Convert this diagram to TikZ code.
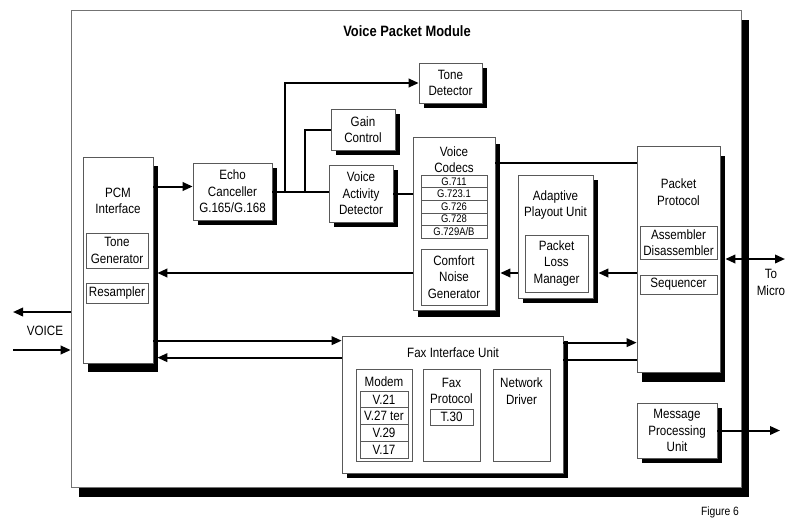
\documentclass[tikz,border=0pt]{standalone}
\usepackage{fontspec}
\setmainfont[FakeStretch=0.86]{Liberation Sans}
\usetikzlibrary{arrows.meta,shadows}

\begin{document}
\begin{tikzpicture}[x=1pt, y=-1pt,
    box/.style={draw=black!65, line width=0.7pt, fill=white, inner sep=0pt, align=center,
      font=\fontsize{13.5}{16.5}\selectfont,
      drop shadow={shadow xshift=5pt, shadow yshift=#1, fill=black, opacity=1}},
    box/.default=-5pt,
    inbox/.style={draw=black!65, line width=0.6pt, fill=white, inner sep=0pt, align=center,
      font=\fontsize{13.5}{16.5}\selectfont},
    lbl/.style={inner sep=0pt, align=center, font=\fontsize{13.5}{16.5}\selectfont},
    wire/.style={line width=2pt},
    arr/.style={wire, -{Triangle[length=10pt, width=8.5pt]}},
    both/.style={wire, {Triangle[length=10pt, width=8.5pt]}-{Triangle[length=10pt, width=8.5pt]}}]
  \useasboundingbox (0,0) rectangle (787,520);

  % module frame
  \node[draw=black!55, line width=0.7pt, fill=white, minimum width=670pt, minimum height=477pt,
        drop shadow={shadow xshift=8pt, shadow yshift=-10pt, fill=black, opacity=1}] (vpm) at (406,248.5) {};
  \node[lbl, font=\bfseries\fontsize{15}{18}\selectfont] (vpmtitle) at (407,31) {Voice Packet Module};

  % PCM side
  \node[box=-9pt, minimum width=70pt, minimum height=206pt] (pcm) at (118,260) {};
  \node[lbl] (pcmlbl) at (118,201) {PCM\\Interface};
  \node[inbox, minimum width=62pt, minimum height=35pt] (tgen) at (117,250.5) {Tone\\Generator};
  \node[inbox, minimum width=62pt, minimum height=20pt] (resamp) at (117,293) {Resampler};

  % voice path
  \node[box, minimum width=79pt, minimum height=57pt] (echo) at (232.5,191.5) {Echo\\Canceller\\G.165/G.168};
  \node[box, minimum width=63pt, minimum height=40pt] (tdet) at (450.5,83) {Tone\\Detector};
  \node[box, minimum width=64pt, minimum height=41pt] (gain) at (363,129.5) {Gain\\Control};
  \node[box, minimum width=64pt, minimum height=57pt] (vad) at (361,193.5) {Voice\\Activity\\Detector};

  \node[box=-7pt, minimum width=82pt, minimum height=173pt] (codec) at (454,223.5) {};
  \node[lbl] (codeclbl) at (454,159.5) {Voice\\Codecs};
  \foreach \c [count=\i] in {G.711,G.723.1,G.726,G.728,G.729A/B}
    \node[inbox, font=\fontsize{11}{12}\selectfont, minimum width=66pt, minimum height=12.6pt]
      (cd\i) at (454,{175+12.6*(\i-0.5)}) {\c};
  \node[inbox, minimum width=66pt, minimum height=56pt] (cng) at (454,277) {Comfort\\Noise\\Generator};

  \node[box, minimum width=75pt, minimum height=123pt] (apu) at (555.5,236.5) {};
  \node[lbl] (apulbl) at (555.5,205) {Adaptive\\Playout Unit};
  \node[inbox, minimum width=63pt, minimum height=57pt] (plm) at (556.5,263.5) {Packet\\Loss\\Manager};

  \node[box=-10pt, minimum width=83pt, minimum height=226pt] (pp) at (678.5,259) {};
  \node[lbl] (pplbl) at (678.5,192) {Packet\\Protocol};
  \node[inbox, minimum width=77pt, minimum height=33pt] (asm) at (678.5,242.5) {Assembler\\Disassembler};
  \node[inbox, minimum width=77pt, minimum height=19pt] (seq) at (678.5,284.5) {Sequencer};

  % fax path
  \node[box, minimum width=221pt, minimum height=137pt] (fax) at (452.5,404.5) {};
  \node[lbl] (faxlbl) at (453,353) {Fax Interface Unit};
  \node[inbox, minimum width=56pt, minimum height=92pt] (modem) at (384,415) {};
  \node[lbl] (modemlbl) at (384,382) {Modem};
  \foreach \m [count=\i] in {V.21,V.27 ter,V.29,V.17}
    \node[inbox, minimum width=48pt, minimum height=16.75pt] (md\i) at (384,{391+16.75*(\i-0.5)}) {\m};
  \node[inbox, minimum width=57pt, minimum height=92pt] (fxp) at (451.5,415) {};
  \node[lbl] (fxplbl) at (451.5,391) {Fax\\Protocol};
  \node[inbox, minimum width=43pt, minimum height=16pt] (t30) at (451.5,417) {T.30};
  \node[inbox, minimum width=57pt, minimum height=92pt] (ndrv) at (521.5,415) {};
  \node[lbl] (ndrvlbl) at (521.5,391) {Network\\Driver};

  \node[box, minimum width=80pt, minimum height=55pt] (mpu) at (677,430.5) {Message\\Processing\\Unit};

  % connectors
  \coordinate (pe) at ([yshift=5pt]echo.west);
  \draw[arr] (pcm.east |- pe) -- (pe);
  \coordinate (jtone) at ([xshift=13pt]echo.east);
  \coordinate (jgain) at ([xshift=33pt]echo.east);
  \draw[wire] (echo.east) -- (echo.east -| vad.west);
  \draw[arr] (jtone) |- (tdet.west);
  \draw[wire] (jgain) |- (gain.west);
  \draw[wire] (vad.east) -- (vad.east -| codec.west);
  \coordinate (cpp) at ([yshift=-26pt]codec.north east);
  \draw[wire] (cpp) -- (cpp -| pp.west);

  \coordinate (ret) at ([yshift=4pt]cng.east);
  \draw[arr] (pp.west |- ret) -- ([xshift=5pt]apu.east |- ret);
  \draw[arr] (apu.west |- ret) -- ([xshift=5pt]codec.east |- ret);
  \draw[arr] (codec.west |- ret) -- ([xshift=4pt]pcm.east |- ret);

  \coordinate (fxin) at ([yshift=-5pt]fax.north west);
  \coordinate (fxout) at ([yshift=-22pt]fax.north west);
  \draw[arr] (pcm.east |- fxin) -- (fxin);
  \draw[arr] (fxout) -- ([xshift=4pt]pcm.east |- fxout);
  \coordinate (fpin) at ([yshift=-7pt]fax.north east);
  \coordinate (fpout) at ([yshift=-24pt]fax.north east);
  \draw[arr] (fpin) -- (fpin -| pp.west);
  \draw[wire] (fpout) -- (fpout -| pp.west);

  \coordinate (micro) at (785,259);
  \draw[both] ([xshift=5pt]pp.east) -- (micro);
  \coordinate (mpuout) at (780,430.5);
  \draw[arr] (mpu.east) -- (mpuout);

  \coordinate (vout) at (13,312);
  \coordinate (vin) at (13,350);
  \draw[arr] (vpm.west |- vout) -- (vout);
  \draw[arr] (vin) -- (vin -| vpm.west);

  % outside labels
  \node[lbl] (voicelbl) at (45,331) {VOICE};
  \node[lbl] (microlbl) at (771,282.5) {To\\Micro};
  \node[lbl, font=\fontsize{12}{14}\selectfont] (figlbl) at (720,512) {Figure 6};
\end{tikzpicture}
\end{document}
